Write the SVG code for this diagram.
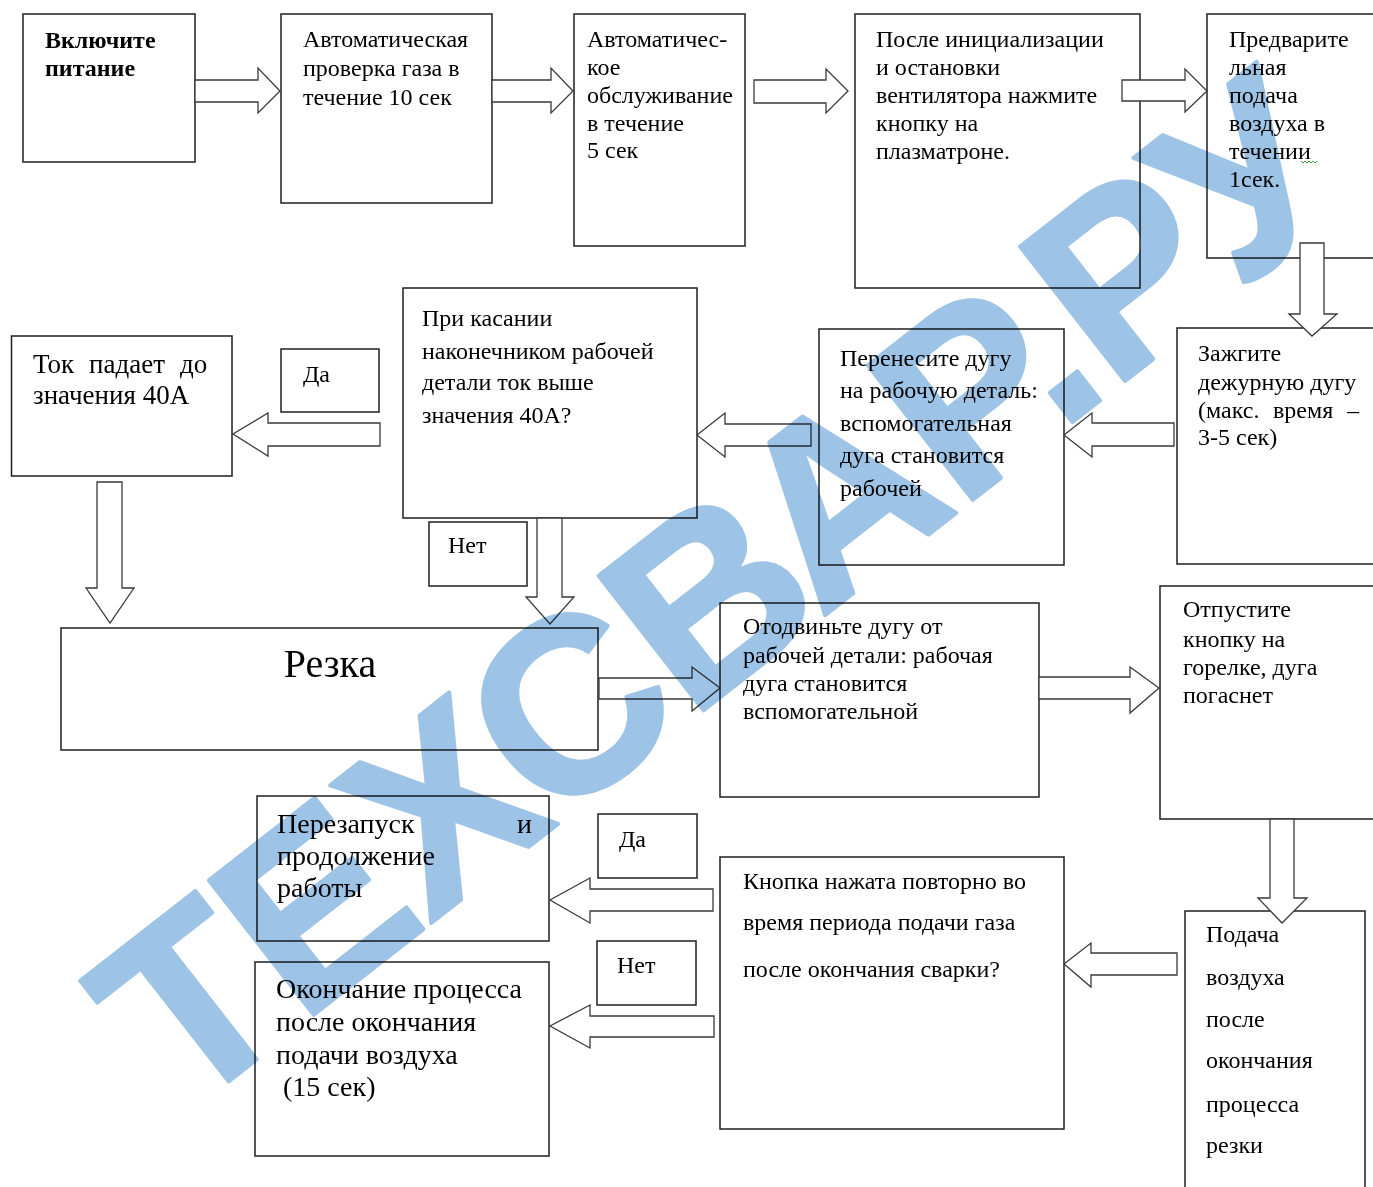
<svg xmlns="http://www.w3.org/2000/svg" width="1373" height="1187" viewBox="0 0 1373 1187">
<style>
.box{fill:#fff;stroke:#1f1f1f;stroke-width:1.5}
.arr{fill:#fff;stroke:#3a3a3a;stroke-width:1.3;stroke-linejoin:miter}
.t{font-family:"Liberation Serif","Times New Roman",serif;font-size:24px;fill:#000}
.b{font-weight:bold}
.big{font-size:28px}
.wm{font-family:"Liberation Sans",Arial,sans-serif;font-weight:bold;font-size:248px;letter-spacing:-2px;fill:#9DC3E6;stroke:#9DC3E6;stroke-width:4;stroke-linejoin:round}
</style>
<rect width="1373" height="1187" fill="#fff"/>
<g id="nodes">
<g id="n-power"><rect class="box" x="23" y="14" width="172" height="148"/>
<text class="t b"><tspan x="45" y="48">Включите</tspan><tspan x="45" y="76">питание</tspan></text></g>
<g id="n-gascheck"><rect class="box" x="281" y="14" width="211" height="189"/>
<text class="t"><tspan x="303" y="47">Автоматическая</tspan><tspan x="303" y="76">проверка газа в</tspan><tspan x="303" y="105">течение 10 сек</tspan></text></g>
<g id="n-service"><rect class="box" x="574" y="14" width="171" height="232"/>
<text class="t"><tspan x="587" y="47">Автоматичес-</tspan><tspan x="587" y="75">кое</tspan><tspan x="587" y="103">обслуживание</tspan><tspan x="587" y="131">в течение</tspan><tspan x="587" y="158">5 сек</tspan></text></g>
<g id="n-init"><rect class="box" x="855" y="14" width="285" height="274"/>
<text class="t"><tspan x="876" y="47">После инициализации</tspan><tspan x="876" y="75">и остановки</tspan><tspan x="876" y="103">вентилятора нажмите</tspan><tspan x="876" y="131">кнопку на</tspan><tspan x="876" y="159">плазматроне.</tspan></text></g>
<g id="n-preair"><rect class="box" x="1207" y="14" width="200" height="244"/>
<text class="t"><tspan x="1229" y="47">Предварите</tspan><tspan x="1229" y="75">льная</tspan><tspan x="1229" y="103">подача</tspan><tspan x="1229" y="131">воздуха в</tspan><tspan x="1229" y="159">течении</tspan><tspan x="1229" y="187">1сек.</tspan></text>
<path d="M1301 161 l2 2 l2 -2 l2 2 l2 -2 l2 2 l2 -2 l2 2 l2 -2" fill="none" stroke="#3c9a3c" stroke-width="1"/></g>
<g id="n-pilot"><rect class="box" x="1177" y="328" width="220" height="236"/>
<text class="t"><tspan x="1198" y="361">Зажгите</tspan><tspan x="1198" y="390">дежурную дугу</tspan><tspan x="1198" y="418">(макс.</tspan><tspan x="1273" y="418">время</tspan><tspan x="1347" y="418">–</tspan><tspan x="1198" y="445">3-5 сек)</tspan></text></g>
<g id="n-transfer"><rect class="box" x="819" y="329" width="245" height="236"/>
<text class="t"><tspan x="840" y="366">Перенесите дугу</tspan><tspan x="840" y="398">на рабочую деталь:</tspan><tspan x="840" y="431">вспомогательная</tspan><tspan x="840" y="463">дуга становится</tspan><tspan x="840" y="496">рабочей</tspan></text></g>
<g id="n-touch"><rect class="box" x="403" y="288" width="294" height="230"/>
<text class="t"><tspan x="422" y="326">При касании</tspan><tspan x="422" y="359">наконечником рабочей</tspan><tspan x="422" y="390">детали ток выше</tspan><tspan x="422" y="423">значения 40А?</tspan></text></g>
<g id="n-drop"><rect class="box" x="11.5" y="336" width="220.5" height="140"/>
<text class="t" style="font-size:27px"><tspan x="33" y="373">Ток</tspan><tspan x="89" y="373">падает</tspan><tspan x="180" y="373">до</tspan><tspan x="33" y="404">значения 40А</tspan></text></g>
<g id="lbl-yes1"><rect class="box" x="281" y="349" width="98" height="63"/>
<text class="t" x="303" y="382">Да</text></g>
<g id="lbl-no1"><rect class="box" x="429" y="522" width="98" height="64"/>
<text class="t" x="448" y="553">Нет</text></g>
<g id="n-cut"><rect class="box" x="61" y="628" width="537" height="122"/>
<text class="t" x="330" y="677" text-anchor="middle" style="font-size:40px">Резка</text></g>
<g id="n-pull"><rect class="box" x="720" y="603" width="319" height="194"/>
<text class="t"><tspan x="743" y="634">Отодвиньте дугу от</tspan><tspan x="743" y="663">рабочей детали: рабочая</tspan><tspan x="743" y="691">дуга становится</tspan><tspan x="743" y="719">вспомогательной</tspan></text></g>
<g id="n-release"><rect class="box" x="1160" y="586" width="230" height="233"/>
<text class="t"><tspan x="1183" y="617">Отпустите</tspan><tspan x="1183" y="647">кнопку на</tspan><tspan x="1183" y="675">горелке, дуга</tspan><tspan x="1183" y="703">погаснет</tspan></text></g>
<g id="n-postair"><rect class="box" x="1185" y="911" width="180" height="300"/>
<text class="t"><tspan x="1206" y="942">Подача</tspan><tspan x="1206" y="985">воздуха</tspan><tspan x="1206" y="1027">после</tspan><tspan x="1206" y="1068">окончания</tspan><tspan x="1206" y="1112">процесса</tspan><tspan x="1206" y="1153">резки</tspan></text></g>
<g id="n-repress"><rect class="box" x="720" y="857" width="344" height="272"/>
<text class="t"><tspan x="743" y="889">Кнопка нажата повторно во</tspan><tspan x="743" y="930">время периода подачи газа</tspan><tspan x="743" y="977">после окончания сварки?</tspan></text></g>
<g id="n-restart"><rect class="box" x="257" y="796" width="292" height="145"/>
<text class="t big"><tspan x="277" y="833">Перезапуск</tspan><tspan x="517" y="833">и</tspan><tspan x="277" y="865">продолжение</tspan><tspan x="277" y="897">работы</tspan></text></g>
<g id="n-end"><rect class="box" x="255" y="962" width="294" height="194"/>
<text class="t big"><tspan x="276" y="998">Окончание процесса</tspan><tspan x="276" y="1031">после окончания</tspan><tspan x="276" y="1064">подачи воздуха</tspan><tspan x="283" y="1096">(15 сек)</tspan></text></g>
<g id="lbl-yes2"><rect class="box" x="598" y="814" width="99" height="64"/>
<text class="t" x="619" y="847">Да</text></g>
<g id="lbl-no2"><rect class="box" x="597" y="941" width="99" height="64"/>
<text class="t" x="617" y="973">Нет</text></g>
</g>
<g id="connectors">
<polygon class="arr" points="195,80 258,80 258,68 280,91 258,113 258,102 195,102"/>
<polygon class="arr" points="492,80 551,80 551,68 573,91 551,113 551,102 492,102"/>
<polygon class="arr" points="754,80 826,80 826,69 848,91 826,113 826,103 754,103"/>
<polygon class="arr" points="1122,80 1185,80 1185,69 1207,91 1185,112 1185,101 1122,101"/>
<polygon class="arr" points="1300,243 1324,243 1324,314 1337,314 1312,336 1289,314 1300,314"/>
<polygon class="arr" points="1174,423 1092,423 1092,413 1064,435 1092,457 1092,446 1174,446"/>
<polygon class="arr" points="811,424 725,424 725,413 697,435 725,457 725,446 811,446"/>
<polygon class="arr" points="380,423 268,423 268,413 233,434 268,456 268,446 380,446"/>
<polygon class="arr" points="97,482 122,482 122,588 134,588 110,623 86,588 97,588"/>
<polygon class="arr" points="537,518 562,518 562,597 574,597 550,624 526,597 537,597"/>
<polygon class="arr" points="599,678 692,678 692,667 720,688 692,711 692,699 599,699"/>
<polygon class="arr" points="1039,677 1130,677 1130,667 1159,688 1130,713 1130,699 1039,699"/>
<polygon class="arr" points="1270,819 1294,819 1294,898 1307,898 1282,923 1258,898 1270,898"/>
<polygon class="arr" points="1177,953 1091,953 1091,943 1064,964 1091,987 1091,975 1177,975"/>
<polygon class="arr" points="713,889 590,889 590,878 550,900 590,923 590,911 713,911"/>
<polygon class="arr" points="714,1016 590,1016 590,1005 550,1026 590,1048 590,1037 714,1037"/>
</g>
<g id="watermark" style="mix-blend-mode:multiply">
<text class="wm" transform="translate(183,1117) rotate(-38)">ТЕХСВАР.РУ</text>
</g>
</svg>
